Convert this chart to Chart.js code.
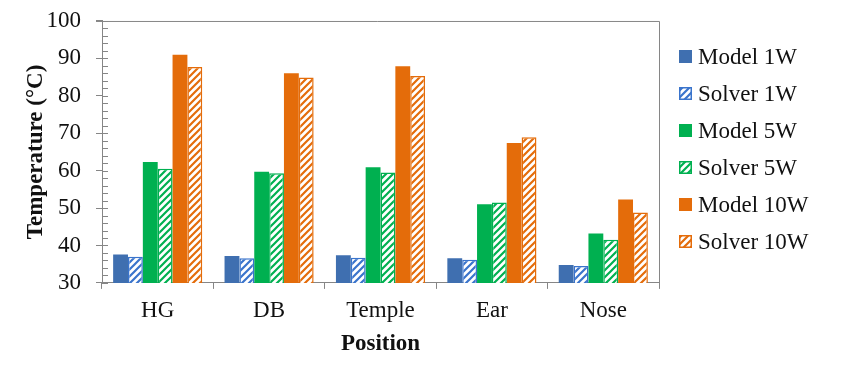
<!DOCTYPE html>
<html>
<head>
<meta charset="utf-8">
<script src="https://cdn.jsdelivr.net/npm/chart.js@4.4.1/dist/chart.umd.min.js"></script>
<style>
  html, body { margin: 0; padding: 0; background: #fff; }
  #wrap { width: 850px; height: 376px; }
</style>
</head>
<body>
<div id="wrap"><canvas id="tempChart" width="850" height="376"></canvas></div>
<script>
// data
const positions = ['HG', 'DB', 'Temple', 'Ear', 'Nose'];
const model1W  = [37.6, 37.2, 37.4, 36.6, 34.8];
const solver1W = [37.0, 36.6, 36.7, 36.2, 34.5];
const model5W  = [62.3, 59.7, 60.9, 51.0, 43.2];
const solver5W = [60.5, 59.3, 59.5, 51.5, 41.5];
const model10W  = [91.0, 86.0, 87.9, 67.4, 52.3];
const solver10W = [87.7, 84.9, 85.3, 68.9, 48.8];
const yTicks = [30, 40, 50, 60, 70, 80, 90, 100];

const BLUE = '#3f6fb0', BLUE_LINE = '#3a74cc';
const GREEN = '#00b050';
const ORANGE = '#e46c0a';
const AXIS = '#868686';
const FONT = '"Liberation Serif", "Times New Roman", serif';

// white fill with "/" stripes
function hatch(color) {
  const s = 7;
  const c = document.createElement('canvas');
  c.width = s; c.height = s;
  const g = c.getContext('2d');
  g.fillStyle = '#fff';
  g.fillRect(0, 0, s, s);
  g.strokeStyle = color;
  g.lineWidth = 2.2;
  g.beginPath();
  g.moveTo(0, s); g.lineTo(s, 0);
  g.moveTo(-1, 1); g.lineTo(1, -1);
  g.moveTo(s - 1, s + 1); g.lineTo(s + 1, s - 1);
  g.stroke();
  return g.createPattern(c, 'repeat');
}

const solid = (label, data, color) => ({
  label, data, backgroundColor: color, borderColor: color, borderWidth: 0
});
const hatched = (label, data, color) => ({
  label, data, backgroundColor: hatch(color), borderColor: color, borderWidth: 1.5
});

// frame, inner y ticks (major + minor) and the right-hand legend
const extras = {
  id: 'extras',
  afterDraw(chart) {
    const { ctx, chartArea: a, scales: { y } } = chart;
    ctx.save();
    ctx.strokeStyle = AXIS;
    ctx.lineWidth = 1;
    ctx.beginPath();
    ctx.moveTo(a.left - 6, a.top + 0.5); ctx.lineTo(a.right + 0.5, a.top + 0.5);
    ctx.lineTo(a.right + 0.5, a.bottom);
    for (let v = yTicks[0]; v <= yTicks[yTicks.length - 1]; v += 2) {
      const py = Math.round(y.getPixelForValue(v)) + 0.5;
      ctx.moveTo(a.left, py); ctx.lineTo(a.left + 6, py);
    }
    ctx.stroke();

    ctx.font = '23px ' + FONT;
    ctx.textBaseline = 'middle';
    const x0 = a.right + 20, y0 = 57, step = 37;
    chart.data.datasets.forEach((ds, i) => {
      const cy = y0 + i * step;
      ctx.fillStyle = ds.backgroundColor;
      ctx.fillRect(x0, cy - 7, 13, 13);
      if (ds.borderWidth) {
        ctx.strokeStyle = ds.borderColor;
        ctx.lineWidth = 1.5;
        ctx.strokeRect(x0 + 0.75, cy - 6.25, 11.5, 11.5);
      }
      ctx.fillStyle = '#111';
      ctx.fillText(ds.label, x0 + 19, cy + 1);
    });
    ctx.restore();
  }
};

new Chart(document.getElementById('tempChart'), {
  type: 'bar',
  data: {
    labels: positions,
    datasets: [
      solid('Model 1W', model1W, BLUE),
      hatched('Solver 1W', solver1W, BLUE_LINE),
      solid('Model 5W', model5W, GREEN),
      hatched('Solver 5W', solver5W, GREEN),
      solid('Model 10W', model10W, ORANGE),
      hatched('Solver 10W', solver10W, ORANGE)
    ]
  },
  options: {
    responsive: false,
    animation: false,
    layout: { padding: { left: 24.5, right: 191, top: 4, bottom: 20.5 } },
    datasets: { bar: { categoryPercentage: 0.8, barPercentage: 1 } },
    plugins: { legend: { display: false }, tooltip: { enabled: false } },
    scales: {
      x: {
        grid: { offset: true, drawOnChartArea: false, tickLength: 6, color: AXIS },
        border: { color: AXIS },
        ticks: { color: '#111', padding: 8, font: { family: FONT, size: 23 } },
        title: { display: true, text: 'Position', color: '#111', padding: { top: 0, bottom: 0 },
                 font: { family: FONT, size: 23, weight: 'bold', lineHeight: 1 } }
      },
      y: {
        min: 30, max: 100,
        grid: { drawOnChartArea: false, tickLength: 6, color: AXIS },
        border: { color: AXIS },
        afterBuildTicks: s => { s.ticks = yTicks.map(v => ({ value: v })); },
        ticks: { color: '#111', padding: 15, font: { family: FONT, size: 23, lineHeight: 0.52 } },
        title: { display: true, text: 'Temperature (°C)', color: '#111', padding: { top: 0, bottom: -16 },
                 font: { family: FONT, size: 23, weight: 'bold', lineHeight: 1 } }
      }
    }
  },
  plugins: [extras]
});
</script>
</body>
</html>
